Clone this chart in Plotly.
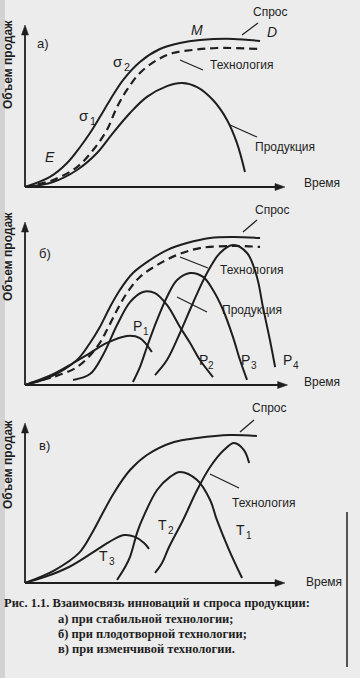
import plotly.graph_objects as go

W, H = 360, 678

# ---------------- data (time / sales volume, arbitrary units 0..100) ----------------
# Panel а) stable technology
a_demand_x = [0, 9.6, 16.2, 21.2, 25.0, 28.8, 32.7, 37.7, 44.2, 51.9, 59.6, 67.3, 80.0, 90.4]
a_demand_y = [0, 6.2, 14.8, 24.7, 33.3, 43.2, 53.7, 66.0, 77.2, 85.2, 88.9, 90.7, 91.4, 90.1]
a_tech_x = [0, 10.8, 20.0, 26.2, 31.5, 35.4, 39.2, 44.2, 50.8, 56.9, 64.6, 73.8, 90.4]
a_tech_y = [0, 4.3, 12.3, 22.8, 35.2, 49.4, 59.9, 70.4, 78.4, 82.7, 84.6, 85.8, 85.2]
a_prod_x = [0, 10.8, 20.0, 27.7, 33.8, 40.4, 46.9, 54.6, 60.4, 66.2, 72.3, 77.7, 81.5, 84.6]
a_prod_y = [0, 3.1, 10.5, 21.0, 33.3, 45.7, 55.6, 62.3, 64.2, 61.7, 53.7, 41.4, 27.2, 9.3]

# Panel б) fruitful technology
b_demand_x = [0, 9.6, 20.0, 25.0, 28.8, 32.7, 36.5, 41.5, 48.1, 54.6, 62.3, 71.2, 80.0, 90.4]
b_demand_y = [0, 4.9, 15.3, 25.8, 35.6, 47.9, 58.3, 68.7, 76.7, 82.8, 87.1, 90.2, 90.8, 90.2]
b_tech_x = [1.9, 10.8, 20.0, 27.7, 31.5, 35.4, 39.2, 44.2, 50.8, 58.5, 67.3, 80.0, 90.4]
b_tech_y = [1.2, 4.9, 11.0, 23.3, 33.7, 46.0, 56.4, 66.3, 73.6, 79.8, 84.0, 85.3, 84.7]
b_p1_x = [0, 10.8, 18.5, 25.0, 31.5, 39.2, 44.2, 48.8]
b_p1_y = [0, 6.7, 13.5, 19.6, 25.8, 30.1, 28.8, 20.2]
b_p2_x = [18.5, 25.0, 30.0, 35.4, 40.4, 45.4, 50.0, 54.6, 59.6, 63.5, 67.3, 72.3]
b_p2_y = [3.1, 6.7, 18.4, 36.8, 50.9, 57.1, 56.4, 49.1, 35.6, 25.8, 15.3, 4.9]
b_p3_x = [41.5, 44.2, 46.9, 50.8, 54.6, 58.5, 63.5, 68.5, 72.3, 76.2, 80.0, 82.7, 85.4]
b_p3_y = [1.8, 11.0, 23.3, 39.9, 54.0, 64.4, 68.7, 66.3, 58.3, 46.0, 29.4, 15.3, 3.1]
b_p4_x = [50.0, 54.6, 59.6, 64.6, 70.0, 75.0, 80.0, 85.4, 89.2, 91.5, 94.2, 96.2]
b_p4_y = [6.1, 15.3, 31.9, 50.3, 68.7, 81.0, 85.9, 81.0, 66.3, 47.9, 27.6, 11.0]

# Panel в) changeable technology
c_demand_x = [0, 11.5, 20.8, 25.8, 28.5, 34.2, 40.4, 46.9, 57.3, 66.2, 78.8, 89.2]
c_demand_y = [0, 8.1, 18.8, 31.3, 39.4, 56.3, 70.6, 80.0, 88.1, 90.6, 92.5, 91.9]
c_t3_x = [0, 7.7, 16.9, 25.8, 32.3, 38.1, 42.3, 45.8, 47.7]
c_t3_y = [0, 3.8, 10.0, 18.8, 25.6, 30.0, 28.8, 25.0, 21.3]
c_t2_x = [35.4, 38.5, 40.4, 43.1, 45.0, 50.8, 55.8, 59.6, 66.2, 71.2, 73.8, 78.5, 83.5]
c_t2_y = [1.9, 10.0, 16.3, 31.3, 39.4, 58.1, 66.3, 69.4, 64.4, 51.9, 39.4, 20.6, 3.1]
c_t1_x = [50.0, 52.7, 55.4, 60.8, 66.2, 71.2, 76.5, 80.4, 84.2, 86.2]
c_t1_y = [6.3, 12.5, 22.5, 39.4, 58.1, 72.5, 83.1, 87.5, 83.1, 75.0]

y_title = "Объем продаж"
x_title = "Время"
caption = [
    "Рис. 1.1. Взаимосвязь инноваций и спроса продукции:",
    "а) при стабильной технологии;",
    "б) при плодотворной технологии;",
    "в) при изменчивой технологии.",
]

# ---------------- styling / layout helpers ----------------
INK = "#1e1e1e"
BG = "#ececec"
SANS = "Liberation Sans, Arial, sans-serif"
SERIF = "Liberation Serif, Times New Roman, serif"

XR = (-5, 105)
YR = (-5, 106)
# (origin px x, origin px y, px per unit x, px per unit y, x-axis tip in data units)
panels = [(25, 187, 2.6, 1.62, 100), (25, 385, 2.6, 1.63, 101), (25, 583, 2.6, 1.60, 100)]


def PX(x):
    return x / W


def PY(y):
    return 1 - y / H


fig = go.Figure()
layout = dict(
    width=W, height=H, margin=dict(l=0, r=0, t=0, b=0),
    paper_bgcolor=BG, plot_bgcolor="rgba(0,0,0,0)", showlegend=False,
    hovermode=False,
)
for i, (ox, oy, sx, sy, _) in enumerate(panels, start=1):
    sfx = "" if i == 1 else str(i)
    layout["xaxis" + sfx] = dict(
        domain=[PX(ox + XR[0] * sx), PX(ox + XR[1] * sx)], range=list(XR),
        visible=False, fixedrange=True, anchor="y" + sfx,
    )
    layout["yaxis" + sfx] = dict(
        domain=[PY(oy - YR[0] * sy), PY(oy - YR[1] * sy)], range=list(YR),
        visible=False, fixedrange=True, anchor="x" + sfx,
    )
fig.update_layout(**layout)


def curve(xs, ys, panel, dash="solid", width=2.0):
    sfx = "" if panel == 1 else str(panel)
    fig.add_trace(go.Scatter(
        x=xs, y=ys, mode="lines", xaxis="x" + sfx, yaxis="y" + sfx,
        line=dict(color=INK, width=width, shape="spline", smoothing=1.0, dash=dash),
        hoverinfo="skip",
    ))


curve(a_demand_x, a_demand_y, 1)
curve(a_tech_x, a_tech_y, 1, dash="8px,5px", width=2.2)
curve(a_prod_x, a_prod_y, 1)

curve(b_demand_x, b_demand_y, 2)
curve(b_tech_x, b_tech_y, 2, dash="8px,5px", width=2.2)
for xs, ys in [(b_p1_x, b_p1_y), (b_p2_x, b_p2_y), (b_p3_x, b_p3_y), (b_p4_x, b_p4_y)]:
    curve(xs, ys, 2)

curve(c_demand_x, c_demand_y, 3)
for xs, ys in [(c_t3_x, c_t3_y), (c_t2_x, c_t2_y), (c_t1_x, c_t1_y)]:
    curve(xs, ys, 3)

annotations = []
shapes = []

# axes (lines in axis coordinates) with arrowheads (small filled triangles)
for i, (ox, oy, sx, sy, tip) in enumerate(panels, start=1):
    sfx = "" if i == 1 else str(i)
    shapes.append(dict(type="line", xref="x" + sfx, yref="y" + sfx,
                       x0=0, y0=0, x1=0, y1=96, line=dict(color=INK, width=1.8)))
    shapes.append(dict(type="line", xref="x" + sfx, yref="y" + sfx,
                       x0=0, y0=0, x1=tip - 2.5, y1=0, line=dict(color=INK, width=1.8)))
    ty_x, ty_y = ox, oy - 100 * sy
    tx_x, tx_y = ox + tip * sx, oy
    up = "M {},{} L {},{} L {},{} Z".format(
        PX(ty_x), PY(ty_y), PX(ty_x - 3.5), PY(ty_y + 10), PX(ty_x + 3.5), PY(ty_y + 10))
    right = "M {},{} L {},{} L {},{} Z".format(
        PX(tx_x), PY(tx_y), PX(tx_x - 10), PY(tx_y - 3.5), PX(tx_x - 10), PY(tx_y + 3.5))
    for p in (up, right):
        shapes.append(dict(type="path", xref="paper", yref="paper", path=p,
                           fillcolor=INK, line=dict(color=INK, width=0.5)))


def label(x, y, text, size=12, italic=False, bold=False, font=SANS, angle=0, anchor="center"):
    t = text
    if italic:
        t = "<i>" + t + "</i>"
    if bold:
        t = "<b>" + t + "</b>"
    annotations.append(dict(
        x=PX(x), y=PY(y), xref="paper", yref="paper", text=t, showarrow=False,
        xanchor=anchor, yanchor="middle", textangle=angle, borderpad=0,
        font=dict(family=font, size=size, color=INK),
    ))


def indexed(x, y, main, sub, size=14):
    # main letter (right edge at x) + smaller lowered index, drawn as two texts
    label(x, y, main, size=size, anchor="right")
    label(x - 1.5, y + size * 0.36, sub, size=size * 0.72, anchor="left")


def leader(x0, y0, x1, y1):
    shapes.append(dict(
        type="line", xref="paper", yref="paper",
        x0=PX(x0), y0=PY(y0), x1=PX(x1), y1=PY(y1),
        line=dict(color=INK, width=1.2),
    ))


# Panel а
label(8, 65, y_title, size=12, bold=True, angle=-90)
label(43, 43, "а)", size=13)
label(270, 12, "Спрос")
leader(242, 35, 258, 23)
label(197, 30, "M", size=14, italic=True)
label(272, 32, "D", size=14, italic=True)
indexed(124, 62, "σ", "2", size=15)
indexed(90, 116, "σ", "1", size=15)
label(50, 157, "E", size=14, italic=True)
label(242, 65, "Технология")
leader(180, 60, 203, 70)
label(285, 147, "Продукция")
leader(230, 125, 257, 137)
label(322, 183, x_title)

# Panel б
label(8, 257, y_title, size=12, bold=True, angle=-90)
label(45, 253, "б)", size=13)
label(272, 210, "Спрос")
leader(243, 232, 257, 220)
label(252, 270, "Технология")
leader(180, 257, 208, 268)
label(252, 310, "Продукция")
leader(177, 297, 207, 312)
indexed(143, 326, "P", "1")
indexed(209, 360, "P", "2")
indexed(251, 360, "P", "3")
indexed(293, 360, "P", "4")
label(322, 382, x_title)

# Panel в
label(8, 465, y_title, size=12, bold=True, angle=-90)
label(44, 445, "в)", size=13)
label(269, 408, "Спрос")
leader(240, 432, 254, 420)
label(264, 503, "Технология")
leader(210, 474, 239, 488)
indexed(109, 556, "T", "3")
indexed(168, 525, "T", "2")
indexed(246, 530, "T", "1")
label(324, 582, x_title)

# caption
label(3, 603, caption[0], size=12.5, bold=True, font=SERIF, anchor="left")
for k, line in enumerate(caption[1:]):
    label(57, 619 + k * 15, line, size=12.5, bold=True, font=SERIF, anchor="left")

# scan edge
shapes.append(dict(type="line", xref="paper", yref="paper",
                   x0=PX(347), y0=PY(512), x1=PX(347), y1=PY(667),
                   line=dict(color="#555555", width=2)))
shapes.append(dict(type="rect", xref="paper", yref="paper",
                   x0=0, y0=PY(678), x1=PX(5), y1=1,
                   line=dict(width=0), fillcolor="#d2d2d2", layer="below"))

fig.update_layout(annotations=annotations, shapes=shapes)
fig.write_html("out.html")
